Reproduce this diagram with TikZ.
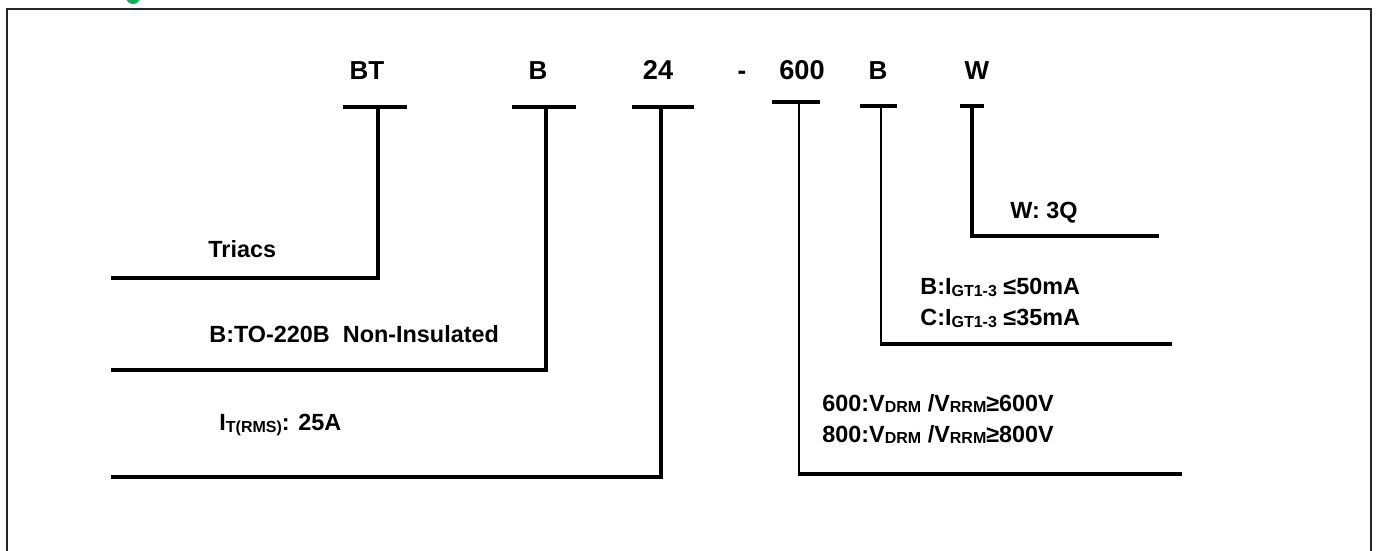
\documentclass[tikz,border=0pt]{standalone}
\usepackage{fontspec}
\setmainfont{Liberation Sans}
\usepackage{tikz}
\usetikzlibrary{positioning}

\definecolor{headgreen}{RGB}{0,180,80}
\newcommand{\lowsub}[1]{{\fontsize{8}{8}\selectfont\raisebox{-0.6pt}{#1}}}

\begin{document}
\begin{tikzpicture}[x=0.5pt,y=-0.5pt]

\tikzset{code/.style={font=\bfseries\fontsize{13}{14}\selectfont, inner sep=0pt, anchor=base},
         digits/.style={code, font=\bfseries\fontsize{13.6}{14}\selectfont},
         desc/.style={font=\bfseries\fontsize{11.7}{15.5}\selectfont, inner sep=0pt, anchor=west, align=left},
         bar/.style={line width=2pt},
         lead/.style={line width=1.8pt, line join=miter},
         thin lead/.style={line width=1.3pt}}

\useasboundingbox (0,0) rectangle (1376,551);
\fill[white] (0,0) rectangle (1376,551);

% frame and cut-off heading
\fill[headgreen] (133,-3) circle (7);
\draw[line width=0.8pt, black!85] (7,560) -- (7,9) -- (1371,9) -- (1371,560);

% part number
\node[code]   (bt)   at (367,80) {BT};
\node[code]   (pkg)  at (538,80) {B};
\node[digits] (cur)  at (658,80) {24};
\node[code]   (dash) at (742,80) {-};
\node[digits] (volt) at (802,80) {600};
\node[code]   (gate) at (878,80) {B};
\node[code]   (quad) at (977,80) {W};

% BT
\coordinate (btl) at (343,107);
\coordinate (btr) at (407,107);
\coordinate (btt) at (378,107);
\coordinate (btb) at (378,278);
\coordinate (bte) at (111,278);
\draw[bar] (btl) -- (btr);
\draw[lead] (btt) -- (btb) -- (bte);
\node[desc] (triacs) at (208,249) {Triacs};

% B
\coordinate (pkgl) at (512,107);
\coordinate (pkgr) at (576,107);
\coordinate (pkgt) at (546,107);
\coordinate (pkgb) at (546,370);
\coordinate (pkge) at (111,370);
\draw[bar] (pkgl) -- (pkgr);
\draw[lead] (pkgt) -- (pkgb) -- (pkge);
\node[desc] (pkgtext) at (209,334) {B:TO-220B\ \ Non-Insulated};

% 24
\coordinate (curl) at (632,107);
\coordinate (curr) at (694,107);
\coordinate (curt) at (661,107);
\coordinate (curb) at (661,477);
\coordinate (cure) at (111,477);
\draw[bar] (curl) -- (curr);
\draw[lead] (curt) -- (curb) -- (cure);
\node[desc] (curtext) at (219,425) {I\lowsub{T(RMS)}: 25A};

% 600
\coordinate (voltl) at (772,102);
\coordinate (voltr) at (820,102);
\coordinate (voltt) at (799,102);
\coordinate (voltb) at (799,474);
\coordinate (volte) at (1182,474);
\draw[bar] (voltl) -- (voltr);
\draw[thin lead] (voltt) -- (voltb);
\draw[bar] ([xshift=-0.6pt]voltb) -- (volte);
\node[desc] (volttext) at (822,419) {600:V\lowsub{DRM} /V\lowsub{RRM}≥600V\\800:V\lowsub{DRM} /V\lowsub{RRM}≥800V};

% B (gate)
\coordinate (gatel) at (860,106);
\coordinate (gater) at (897,106);
\coordinate (gatet) at (881,106);
\coordinate (gateb) at (881,344);
\coordinate (gatee) at (1172,344);
\draw[bar] (gatel) -- (gater);
\draw[thin lead] (gatet) -- (gateb);
\draw[bar] ([xshift=-0.6pt]gateb) -- (gatee);
\node[desc] (gatetext) at (920,303) {B:I\lowsub{GT1-3} ≤50mA\\C:I\lowsub{GT1-3} ≤35mA};

% W
\coordinate (quadl) at (960,106);
\coordinate (quadr) at (984,106);
\coordinate (quadt) at (972,106);
\coordinate (quadb) at (972,236);
\coordinate (quade) at (1159,236);
\draw[bar] (quadl) -- (quadr);
\draw[lead] (quadt) -- (quadb) -- (quade);
\node[desc] (quadtext) at (1010,213) {W: 3Q};

\end{tikzpicture}
\end{document}
